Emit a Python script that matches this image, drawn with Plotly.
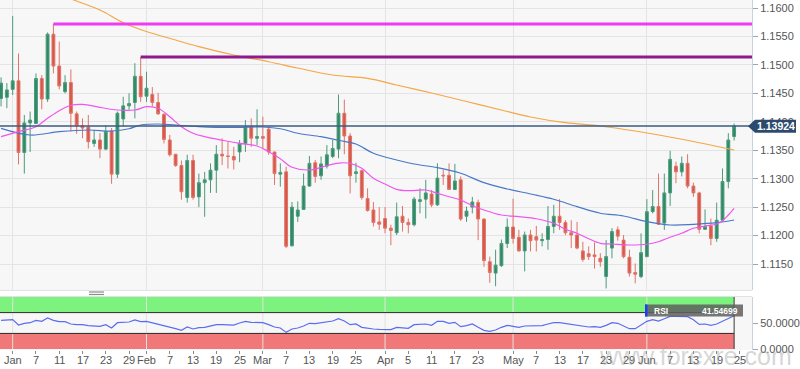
import pandas as pd
import plotly.graph_objects as go

# ---------------- data ----------------
dates = pd.bdate_range("2018-12-28", "2019-06-24")

open_ = [1.1441, 1.1443, 1.1457, 1.1472, 1.1346, 1.1398, 1.1397, 1.1476, 1.1440, 1.1554,
         1.1498, 1.1453, 1.1469, 1.1414, 1.1393, 1.1391, 1.1362, 1.1368, 1.1352, 1.1384,
         1.1308, 1.1405, 1.1428, 1.1434, 1.1480, 1.1445, 1.1448, 1.1434, 1.1413, 1.1368,
         1.1343, 1.1323, 1.1267, 1.1332, 1.1268, 1.1293, 1.1298, 1.1315, 1.1343, 1.1340,
         1.1339, 1.1347, 1.1362, 1.1391, 1.1371, 1.1374, 1.1387, 1.1347, 1.1308, 1.1312,
         1.1182, 1.1234, 1.1246, 1.1287, 1.1328, 1.1305, 1.1322, 1.1339, 1.1352, 1.1415,
         1.1375, 1.1309, 1.1314, 1.1265, 1.1245, 1.1224, 1.1230, 1.1213, 1.1205, 1.1234,
         1.1223, 1.1219, 1.1260, 1.1264, 1.1273, 1.1254, 1.1306, 1.1306, 1.1281, 1.1298,
         1.1234, 1.1250, 1.1258, 1.1229, 1.1154, 1.1134, 1.1147, 1.1186, 1.1215, 1.1197,
         1.1173, 1.1201, 1.1198, 1.1191, 1.1193, 1.1216, 1.1234, 1.1223, 1.1205, 1.1201,
         1.1173, 1.1168, 1.1166, 1.1160, 1.1128, 1.1178, 1.1210, 1.1192, 1.1162, 1.1135,
         1.1128, 1.1163, 1.1242, 1.1251, 1.1222, 1.1275, 1.1322, 1.1312, 1.1327, 1.1287,
         1.1275, 1.1211, 1.1217, 1.1195, 1.1227, 1.1295, 1.1374]
high = [1.1478, 1.1468, 1.1586, 1.1520, 1.1412, 1.1418, 1.1485, 1.1482, 1.1557, 1.1572,
        1.1541, 1.1482, 1.1492, 1.1418, 1.1406, 1.1412, 1.1386, 1.1380, 1.1394, 1.1389,
        1.1418, 1.1444, 1.1450, 1.1503, 1.1514, 1.1488, 1.1461, 1.1451, 1.1415, 1.1377,
        1.1343, 1.1332, 1.1342, 1.1342, 1.1309, 1.1312, 1.1327, 1.1359, 1.1371, 1.1365,
        1.1356, 1.1368, 1.1403, 1.1406, 1.1422, 1.1409, 1.1391, 1.1347, 1.1327, 1.1321,
        1.1259, 1.1260, 1.1309, 1.1340, 1.1333, 1.1339, 1.1359, 1.1368, 1.1448, 1.1439,
        1.1380, 1.1328, 1.1316, 1.1283, 1.1259, 1.1250, 1.1250, 1.1219, 1.1258, 1.1252,
        1.1230, 1.1268, 1.1283, 1.1298, 1.1280, 1.1327, 1.1316, 1.1327, 1.1326, 1.1304,
        1.1251, 1.1268, 1.1263, 1.1230, 1.1163, 1.1175, 1.1193, 1.1230, 1.1265, 1.1210,
        1.1207, 1.1210, 1.1217, 1.1204, 1.1252, 1.1254, 1.1264, 1.1227, 1.1227, 1.1224,
        1.1189, 1.1181, 1.1188, 1.1169, 1.1192, 1.1213, 1.1216, 1.1201, 1.1175, 1.1151,
        1.1204, 1.1264, 1.1280, 1.1309, 1.1309, 1.1349, 1.1330, 1.1339, 1.1343, 1.1293,
        1.1277, 1.1246, 1.1230, 1.1258, 1.1318, 1.1380, 1.1397]
low = [1.1427, 1.1424, 1.1447, 1.1325, 1.1309, 1.1347, 1.1396, 1.1422, 1.1435, 1.1485,
       1.1457, 1.1450, 1.1383, 1.1379, 1.1371, 1.1353, 1.1356, 1.1336, 1.1350, 1.1291,
       1.1301, 1.1391, 1.1421, 1.1406, 1.1435, 1.1435, 1.1427, 1.1412, 1.1362, 1.1339,
       1.1321, 1.1263, 1.1258, 1.1263, 1.1250, 1.1233, 1.1275, 1.1275, 1.1324, 1.1318,
       1.1316, 1.1329, 1.1347, 1.1356, 1.1359, 1.1352, 1.1342, 1.1289, 1.1286, 1.1178,
       1.1181, 1.1224, 1.1245, 1.1286, 1.1293, 1.1298, 1.1318, 1.1336, 1.1336, 1.1343,
       1.1274, 1.1293, 1.1263, 1.1242, 1.1216, 1.1210, 1.1204, 1.1183, 1.1201, 1.1207,
       1.1204, 1.1216, 1.1239, 1.1230, 1.1250, 1.1252, 1.1289, 1.1280, 1.1280, 1.1226,
       1.1224, 1.1239, 1.1192, 1.1145, 1.1117, 1.1111, 1.1145, 1.1178, 1.1186, 1.1172,
       1.1137, 1.1172, 1.1172, 1.1181, 1.1175, 1.1204, 1.1210, 1.1201, 1.1178, 1.1176,
       1.1154, 1.1157, 1.1142, 1.1145, 1.1107, 1.1160, 1.1191, 1.1160, 1.1128, 1.1116,
       1.1125, 1.1162, 1.1239, 1.1219, 1.1210, 1.1252, 1.1292, 1.1304, 1.1283, 1.1268,
       1.1204, 1.1210, 1.1183, 1.1189, 1.1224, 1.1283, 1.1367]
close = [1.1468, 1.1456, 1.1472, 1.1346, 1.1398, 1.1403, 1.1476, 1.1440, 1.1554, 1.1498,
         1.1463, 1.1469, 1.1415, 1.1393, 1.1389, 1.1365, 1.1368, 1.1352, 1.1383, 1.1308,
         1.1415, 1.1428, 1.1432, 1.1480, 1.1444, 1.1459, 1.1434, 1.1414, 1.1369, 1.1342,
         1.1323, 1.1277, 1.1332, 1.1267, 1.1293, 1.1298, 1.1315, 1.1343, 1.1340, 1.1339,
         1.1333, 1.1362, 1.1391, 1.1371, 1.1374, 1.1371, 1.1347, 1.1309, 1.1311, 1.1181,
         1.1250, 1.1245, 1.1287, 1.1327, 1.1304, 1.1326, 1.1342, 1.1353, 1.1415, 1.1375,
         1.1305, 1.1312, 1.1267, 1.1244, 1.1223, 1.1220, 1.1213, 1.1209, 1.1233, 1.1223,
         1.1219, 1.1264, 1.1263, 1.1275, 1.1254, 1.1301, 1.1305, 1.1281, 1.1296, 1.1229,
         1.1243, 1.1259, 1.1229, 1.1156, 1.1135, 1.1148, 1.1186, 1.1215, 1.1195, 1.1173,
         1.1201, 1.1191, 1.1192, 1.1193, 1.1216, 1.1234, 1.1223, 1.1205, 1.1201, 1.1178,
         1.1158, 1.1163, 1.1163, 1.1154, 1.1163, 1.1207, 1.1199, 1.1163, 1.1134, 1.1132,
         1.1170, 1.1242, 1.1251, 1.1220, 1.1275, 1.1334, 1.1312, 1.1327, 1.1287, 1.1275,
         1.1211, 1.1216, 1.1195, 1.1227, 1.1295, 1.1368, 1.13924]

rsi = [55.1, 55.8, 56.4, 46.1, 49.4, 50.6, 55.1, 53.2, 59.6, 55.1,
       52.6, 52.6, 48.1, 46.8, 46.8, 44.9, 43.6, 43.6, 46.8, 40.4,
       50.6, 51.3, 51.9, 55.8, 52.6, 53.2, 50.6, 48.1, 45.5, 42.3,
       39.1, 35.9, 42.3, 38.5, 41.0, 41.7, 43.6, 46.8, 46.8, 46.1,
       46.1, 50.0, 53.2, 51.3, 51.3, 50.6, 46.8, 42.3, 40.4, 32.0,
       38.5, 40.4, 44.2, 49.4, 48.7, 50.0, 51.9, 53.8, 58.3, 53.8,
       46.8, 48.1, 41.7, 39.7, 38.5, 37.8, 37.8, 37.2, 41.7, 40.4,
       39.7, 46.8, 47.4, 48.1, 45.5, 53.2, 53.2, 49.4, 51.3, 42.9,
       44.9, 48.1, 41.7, 35.9, 34.0, 36.5, 41.7, 45.5, 43.6, 41.7,
       44.2, 44.2, 45.5, 44.9, 48.1, 50.6, 50.6, 48.7, 47.4, 46.1,
       43.6, 42.3, 42.9, 41.7, 45.5, 50.6, 49.4, 43.6, 39.1, 39.1,
       46.8, 53.2, 56.4, 53.8, 58.3, 62.8, 62.8, 62.2, 62.2, 56.4,
       47.4, 48.1, 45.5, 48.1, 53.2, 59.6, 64.1]
rsi_label = "41.54699"

# moving averages, read at selected candle indices
ma_long_at = [6, 12, 17, 21, 25, 30, 34, 40, 46, 51, 57, 63, 68, 74, 80, 86, 91, 97, 103, 109, 114, 120, 126]
ma_long = [1.1639, 1.1616, 1.15965, 1.15742, 1.15587, 1.15438, 1.1532, 1.15174, 1.15056, 1.14945,
           1.14822, 1.14764, 1.14647, 1.14506, 1.14357, 1.14207, 1.14084, 1.13984, 1.13926, 1.13838,
           1.1375, 1.13632, 1.13504]
ma_mid_at = [0, 5, 10, 15, 19, 22, 24, 27, 30, 34, 37, 41, 45, 48, 51, 55, 58, 61, 64, 68,
             71, 75, 79, 83, 87, 91, 95, 99, 103, 107, 111, 115, 119, 123, 126]
ma_mid = [1.13885, 1.13768, 1.13826, 1.13856, 1.13838, 1.13878, 1.13943, 1.13961, 1.13943, 1.13914,
          1.13903, 1.13903, 1.13908, 1.13878, 1.13798, 1.13738, 1.13675, 1.1361, 1.13446, 1.13329,
          1.13258, 1.13193, 1.13095, 1.1293, 1.12819, 1.12731, 1.12638, 1.12508, 1.12392, 1.12344,
          1.12244, 1.12186, 1.12198, 1.12227, 1.12274]
ma_short_at = [0, 3, 6, 8, 10, 12, 14, 17, 20, 23, 25, 27, 29, 31, 33, 35, 38, 41, 44, 46,
               48, 50, 53, 56, 58, 60, 62, 64, 66, 68, 70, 73, 75, 77, 79, 81, 83, 86, 89, 92,
               95, 97, 99, 101, 103, 105, 108, 111, 113, 115, 117, 119, 121, 123, 124, 125, 126]
ma_short = [1.13738, 1.13826, 1.13914, 1.14061, 1.14195, 1.1429, 1.14307, 1.14255, 1.14207, 1.14207,
            1.14265, 1.14237, 1.14089, 1.13914, 1.13798, 1.13738, 1.13675, 1.13622, 1.13574, 1.13474,
            1.13351, 1.132, 1.13153, 1.13228, 1.13275, 1.1327, 1.13182, 1.13007, 1.12906, 1.12813,
            1.12789, 1.12801, 1.12743, 1.12683, 1.12625, 1.12525, 1.12449, 1.12361, 1.12332, 1.12296,
            1.12216, 1.1211, 1.1204, 1.11945, 1.11864, 1.11852, 1.11834, 1.11847, 1.11892, 1.1197,
            1.1204, 1.12128, 1.12168, 1.12203, 1.12261, 1.12361, 1.12479]

# resistance levels: (price, index of the candle they start from)
level_hi, level_hi_from = 1.1572, 9
level_lo, level_lo_from = 1.1514, 24

price_ticks = [1.115, 1.120, 1.125, 1.130, 1.135, 1.140, 1.145, 1.150, 1.155, 1.160]
rsi_ticks = [0, 50]
rsi_tick_text = ["0.0000", "50.0000"]
tick_dates = ["2019-01-01", "2019-01-07", "2019-01-11", "2019-01-17", "2019-01-23", "2019-01-29",
              "2019-02-01", "2019-02-07", "2019-02-13", "2019-02-19", "2019-02-25",
              "2019-03-01", "2019-03-07", "2019-03-13", "2019-03-19", "2019-03-25",
              "2019-04-01", "2019-04-05", "2019-04-11", "2019-04-17", "2019-04-23",
              "2019-05-01", "2019-05-07", "2019-05-13", "2019-05-17", "2019-05-23", "2019-05-29",
              "2019-06-03", "2019-06-07", "2019-06-13", "2019-06-19", "2019-06-25"]
tick_text = ["Jan", "7", "11", "17", "23", "29", "Feb", "7", "13", "19", "25",
             "Mar", "7", "13", "19", "25", "Apr", "5", "11", "17", "23",
             "May", "7", "13", "17", "23", "29", "Jun", "7", "13", "19", "25"]
month_starts = ["2019-01-01", "2019-02-01", "2019-03-01", "2019-04-01", "2019-05-01", "2019-06-03"]

# ---------------- layout helpers ----------------
W, H = 800, 369
R = 48
PW = W - R
axis_days = pd.bdate_range("2018-12-28", "2019-06-28")
pos = lambda d: int(axis_days.get_loc(pd.Timestamp(d)))
tick_pos = [pos(d) for d in tick_dates]
month_pos = [pos(d) for d in month_starts]
x = list(range(len(dates)))
last = len(dates) - 1
xr = [-0.18, 129.07]

def px(v):
    return v / PW

def py(v):
    return 1 - v / H

FONT = "Liberation Sans, Arial, sans-serif"
GREEN, RED = "#2f8a66", "#d8574a"

fig = go.Figure()

fig.add_trace(go.Candlestick(
    x=x, open=open_, high=high, low=low, close=close,
    increasing=dict(line=dict(color="#4c9a7b", width=1), fillcolor=GREEN),
    decreasing=dict(line=dict(color="#df7467", width=1), fillcolor=RED),
    whiskerwidth=0, hoverinfo="skip", xaxis="x", yaxis="y", showlegend=False))

fig.add_trace(go.Scatter(x=ma_long_at, y=ma_long, mode="lines", line=dict(color="#f5a645", width=1.2, shape="spline"),
                         xaxis="x", yaxis="y", hoverinfo="skip", showlegend=False))
fig.add_trace(go.Scatter(x=ma_mid_at, y=ma_mid, mode="lines", line=dict(color="#4a78c8", width=1.2, shape="spline"),
                         xaxis="x", yaxis="y", hoverinfo="skip", showlegend=False))
fig.add_trace(go.Scatter(x=ma_short_at, y=ma_short, mode="lines", line=dict(color="#f055f0", width=1.2, shape="spline"),
                         xaxis="x", yaxis="y", hoverinfo="skip", showlegend=False))

fig.add_trace(go.Scatter(x=x, y=rsi, mode="lines", line=dict(color="#5a6cf2", width=1.2),
                         xaxis="x2", yaxis="y2", hoverinfo="skip", showlegend=False))

shapes = []
# resistance lines
shapes.append(dict(type="line", xref="x", yref="y", x0=level_hi_from, x1=xr[1], y0=level_hi, y1=level_hi,
                   line=dict(color="#f03cf0", width=3)))
shapes.append(dict(type="line", xref="x", yref="y", x0=level_lo_from, x1=xr[1], y0=level_lo, y1=level_lo,
                   line=dict(color="#8e1a8e", width=3)))
# current price line
shapes.append(dict(type="line", xref="paper", yref="y", x0=0, x1=1, y0=close[-1], y1=close[-1],
                   line=dict(color="#3b5b85", width=1.5)))
# RSI bands
shapes.append(dict(type="rect", xref="x2", yref="y2", x0=xr[0] - 1, x1=last, y0=70, y1=100,
                   fillcolor="#7ef27e", line=dict(width=0), layer="below"))
shapes.append(dict(type="rect", xref="x2", yref="y2", x0=xr[0] - 1, x1=last, y0=0, y1=30,
                   fillcolor="#f07878", line=dict(width=0), layer="below"))
for lv in (70, 30):
    shapes.append(dict(type="line", xref="x2", yref="y2", x0=xr[0] - 1, x1=last, y0=lv, y1=lv,
                       line=dict(color="#2a2a2a", width=1)))
shapes.append(dict(type="line", xref="x2", yref="y2", x0=last, x1=last, y0=0, y1=100,
                   line=dict(color="#3a3a3a", width=1)))
# RSI month gridlines
for m in month_pos:
    shapes.append(dict(type="line", xref="x2", yref="y2", x0=m, x1=m, y0=-1.9, y1=100,
                       line=dict(color="#e2e2e2", width=1), layer="below"))
# separators / handle
shapes.append(dict(type="line", xref="paper", yref="paper", x0=0, x1=1, y0=py(290.5), y1=py(290.5),
                   line=dict(color="#e3e3e3", width=1)))
shapes.append(dict(type="line", xref="paper", yref="paper", x0=0, x1=1, y0=py(296.5), y1=py(296.5),
                   line=dict(color="#dfe3e8", width=1)))
for hy in (292, 294.5):
    shapes.append(dict(type="line", xref="paper", yref="paper", x0=px(89), x1=px(104), y0=py(hy), y1=py(hy),
                       line=dict(color="#8a8a8a", width=1.2)))
# price label box
yc = 126.3
shapes.append(dict(type="path", xref="paper", yref="paper",
                   path=f"M {px(748)} {py(yc)} L {px(755)} {py(yc-6.5)} L {px(796)} {py(yc-6.5)} "
                        f"L {px(796)} {py(yc+6.5)} L {px(755)} {py(yc+6.5)} Z",
                   fillcolor="#2c4a6e", line=dict(width=0)))
# RSI label box
shapes.append(dict(type="rect", xref="paper", yref="paper", x0=px(645), x1=px(743), y0=py(316.5), y1=py(304.5),
                   fillcolor="rgba(95,95,95,0.85)", line=dict(width=0)))
shapes.append(dict(type="rect", xref="paper", yref="paper", x0=px(645), x1=px(647.5), y0=py(316.5), y1=py(304.5),
                   fillcolor="#1c3cff", line=dict(width=0)))

annotations = [
    dict(xref="paper", yref="paper", x=px(776), y=py(yc), text="<b>1.13924</b>", showarrow=False,
         font=dict(color="white", size=10.5, family=FONT), xanchor="center", yanchor="middle"),
    dict(xref="paper", yref="paper", x=px(652), y=py(310.5), text="<b>RSI</b>", showarrow=False,
         font=dict(color="white", size=8.5, family=FONT), xanchor="left", yanchor="middle"),
    dict(xref="paper", yref="paper", x=px(740), y=py(310.5), text="<b>" + rsi_label + "</b>", showarrow=False,
         font=dict(color="white", size=8.5, family=FONT), xanchor="right", yanchor="middle"),
]
# date tick labels
for tp, tt in zip(tick_pos, tick_text):
    annotations.append(dict(xref="x2", yref="paper", x=tp, y=py(359.5), text=tt, showarrow=False,
                            font=dict(color="#555", size=11, family=FONT), xanchor="center", yanchor="middle"))
annotations.append(dict(xref="paper", yref="paper", x=px(794), y=py(356), text="www.forexre.com", showarrow=False,
                        font=dict(color="rgba(150,150,150,0.40)", size=25, family=FONT),
                        xanchor="right", yanchor="middle"))

fig.update_layout(
    width=W, height=H,
    margin=dict(l=0, r=R, t=0, b=0),
    paper_bgcolor="white", plot_bgcolor="#f7f7f7",
    showlegend=False, hovermode=False,
    font=dict(family=FONT, size=11, color="#555"),
    shapes=shapes, annotations=annotations,
    xaxis=dict(domain=[0, 1], range=xr, anchor="y", tickmode="array", tickvals=month_pos,
               showticklabels=False, ticks="", showgrid=True, gridcolor="#e4e4e4", gridwidth=1,
               zeroline=False, rangeslider=dict(visible=False), showline=False, fixedrange=True),
    yaxis=dict(domain=[py(290), 1], range=[1.11043, 1.16141], side="right", anchor="x",
               tickmode="array", tickvals=price_ticks, ticktext=[f"{v:.4f}" for v in price_ticks],
               ticks="outside", ticklen=5, tickcolor="#9aa6b4", showgrid=True, gridcolor="#e4e4e4",
               showline=True, linecolor="#c9d3de", zeroline=False,
               tickfont=dict(size=11, color="#555"), automargin=False),
    xaxis2=dict(domain=[0, 1], range=xr, anchor="y2", tickmode="array", tickvals=tick_pos,
                showticklabels=False, ticks="outside", ticklen=3, tickcolor="#888",
                showgrid=False, zeroline=False, showline=False, automargin=False),
    yaxis2=dict(domain=[py(350), py(297)], range=[-1.9, 100], side="right", anchor="x2",
                tickmode="array", tickvals=rsi_ticks, ticktext=rsi_tick_text, ticks="outside", ticklen=5,
                tickcolor="#9aa6b4", showgrid=False, zeroline=False, showline=True, linecolor="#c9d3de",
                tickfont=dict(size=11, color="#555"), automargin=False),
)

fig.write_html("out.html", config={"displayModeBar": False},
               post_script="document.body.style.margin='0';document.body.style.padding='0';")
